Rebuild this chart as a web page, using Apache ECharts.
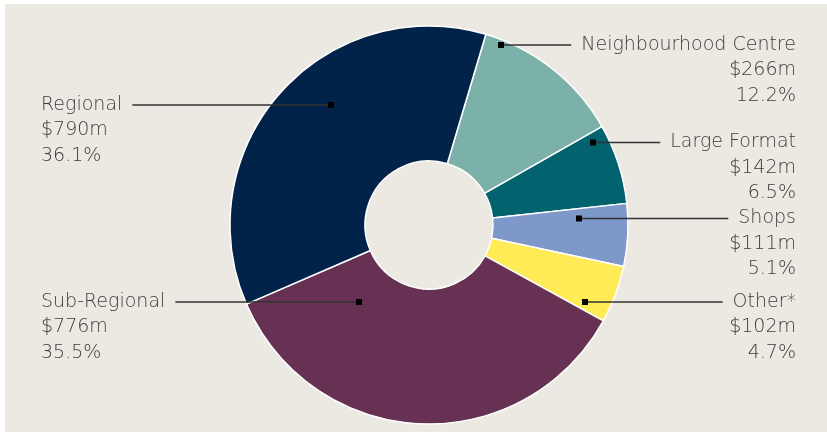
<!DOCTYPE html>
<html><head><meta charset="utf-8">
<script src="https://cdn.jsdelivr.net/npm/echarts@6/dist/echarts.min.js"></script>
<style>
html,body{margin:0;padding:0;background:#fff;}
#bg{position:absolute;left:5px;top:4px;width:822px;height:428px;background:#ECE8E2;}
#main{position:absolute;left:0;top:0;width:827px;height:432px;}
</style></head><body>
<div id="bg"></div><div id="main"></div>
<script>
const categories = ['Neighbourhood Centre','Large Format','Shops','Other*','Sub-Regional','Regional'];
const values = [266,142,111,102,776,790];
const colors = ['#7BB1A8','#02626E','#7E98CA','#FFEB55','#663152','#01234A'];
// annotation layout (not data)
const labelSide = ['right','right','right','right','left','left'];
const labelLineY = [45,142.5,218.5,302,302,105];
const markerX = [501,593,579,585,359,331];
const TEXT_RIGHT = 796, TEXT_LEFT = 41, GAP = 10, LH = 25.5;
const FONT_FAMILY = 'DejaVu Sans', FONT_WEIGHT = 200, FONT_SIZE = 19;
const total = values.reduce((a,b)=>a+b,0);

const mctx = document.createElement('canvas').getContext('2d');
mctx.font = FONT_WEIGHT + ' ' + FONT_SIZE + 'px "' + FONT_FAMILY + '"';
const lineEnd = categories.map((c,i)=>{
  const w = mctx.measureText(c).width;
  return labelSide[i]==='right' ? TEXT_RIGHT - w - GAP : TEXT_LEFT + w + GAP;
});

const chart = echarts.init(document.getElementById('main'), null, {renderer:'canvas'});
chart.setOption({
  backgroundColor: 'transparent',
  animation: false,
  series: [{
    type: 'pie',
    center: [429, 225],
    radius: [64, 199],
    startAngle: 73.4,
    clockwise: true,
    avoidLabelOverlap: false,
    silent: true,
    itemStyle: {borderColor: '#FFFFFF', borderWidth: 1.5},
    label: {
      show: true,
      formatter: p => `${p.name}\n$${p.value}m\n${(p.value/total*100).toFixed(1)}%`,
      color: '#3C3C3C',
      fontFamily: FONT_FAMILY,
      fontWeight: FONT_WEIGHT,
      fontSize: FONT_SIZE,
      lineHeight: LH
    },
    labelLine: {show: false},
    labelLayout: function(p){
      const i = p.dataIndex;
      const right = labelSide[i] === 'right';
      return {
        x: right ? TEXT_RIGHT : TEXT_LEFT,
        y: labelLineY[i] - LH/2,
        align: right ? 'right' : 'left',
        verticalAlign: 'top'
      };
    },
    data: categories.map((c,i)=>({name:c, value:values[i], itemStyle:{color:colors[i]}}))
  }],
  graphic: markerX.map((mx,i)=>({
    type:'line', z: 100,
    shape:{x1: mx, y1: labelLineY[i], x2: lineEnd[i], y2: labelLineY[i]},
    style:{stroke:'#333333', lineWidth:1.5}
  })).concat(markerX.map((mx,i)=>({
    type:'rect', z: 101,
    shape:{x: mx-3, y: labelLineY[i]-3, width:6, height:6},
    style:{fill:'#000000'}
  })))
});
</script></body></html>
